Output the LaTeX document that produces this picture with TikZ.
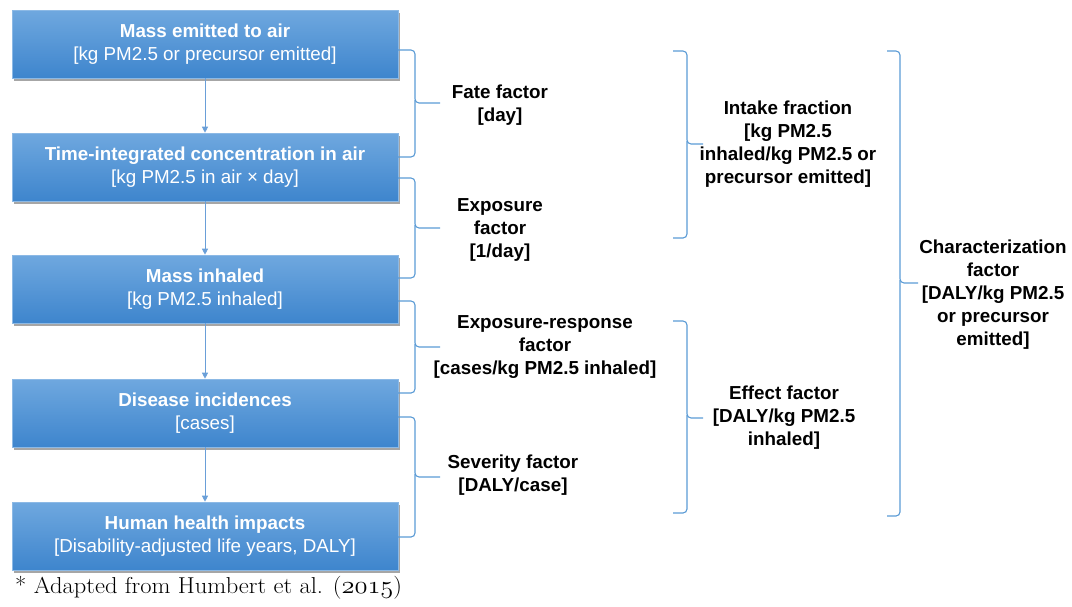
\documentclass[tikz,border=0pt]{standalone}
\usepackage{fontspec}
\setsansfont{Liberation Sans}
\usetikzlibrary{arrows.meta,shadows}
\definecolor{boxtop}{HTML}{6FA8DF}
\definecolor{boxbot}{HTML}{3E85CD}
\definecolor{bracecol}{HTML}{5B9BD5}
\definecolor{arrcol}{HTML}{6A9FD8}
\tikzset{
  flowbox/.style={rectangle, minimum width=386pt, minimum height=68pt, inner sep=0pt,
    top color=boxtop, bottom color=boxbot, draw=boxtop!80!white, line width=0.6pt,
    text=white, align=center, font=\sffamily\fontsize{18.8}{23}\selectfont,
    drop shadow={shadow xshift=1.5pt, shadow yshift=-2.5pt, fill=black, opacity=0.35}},
  flowarr/.style={draw=arrcol, line width=0.9pt, -{Triangle[length=6pt,width=6pt]}},
  bracket/.style={draw=bracecol, line width=1.1pt, rounded corners=4pt},
  lbl/.style={align=center, font=\sffamily\bfseries\fontsize{18.8}{23}\selectfont, inner sep=0pt}
}
\begin{document}
\begin{tikzpicture}[x=1pt,y=-1pt]
\useasboundingbox (0,0) rectangle (1072,606);
% boxes
\node[flowbox] (b1) at (205,44) {\textbf{Mass emitted to air}\\{[kg PM2.5 or precursor emitted]}};
\node[flowbox] (b2) at (205,167) {\textbf{Time-integrated concentration in air}\\{[kg PM2.5 in air × day]}};
\node[flowbox] (b3) at (205,289) {\textbf{Mass inhaled}\\{[kg PM2.5 inhaled]}};
\node[flowbox] (b4) at (205,413) {\textbf{Disease incidences}\\{[cases]}};
\node[flowbox] (b5) at (205,536) {\textbf{Human health impacts}\\{[Disability-adjusted life years, DALY]}};
% arrows
\draw[flowarr] (b1) -- (b2);
\draw[flowarr] (b2) -- (b3);
\draw[flowarr] (b3) -- (b4);
\draw[flowarr] (b4) -- (b5);
% braces column 1
\draw[bracket] (398,50) -- (415,50) -- (415,103) -- (440,103);
\draw[bracket] (415,100) -- (415,157) -- (398,157);
\draw[bracket] (398,178) -- (415,178) -- (415,228) -- (440,228);
\draw[bracket] (415,225) -- (415,278) -- (398,278);
\draw[bracket] (398,301) -- (415,301) -- (415,347) -- (440,347);
\draw[bracket] (415,344) -- (415,393) -- (398,393);
\draw[bracket] (398,417) -- (415,417) -- (415,477) -- (440,477);
\draw[bracket] (415,474) -- (415,537) -- (398,537);
% braces column 2
\draw[bracket] (673,51) -- (687,51) -- (687,144) -- (703,144);
\draw[bracket] (687,141) -- (687,238) -- (673,238);
\draw[bracket] (673,321) -- (687,321) -- (687,418) -- (703,418);
\draw[bracket] (687,415) -- (687,513) -- (673,513);
% brace column 3
\draw[bracket] (887,51) -- (900,51) -- (900,283) -- (918,283);
\draw[bracket] (900,280) -- (900,516) -- (887,516);
% labels
\node[lbl] (fate) at (500,105) {Fate factor\\{[day]}};
\node[lbl] (expo) at (500,230) {Exposure\\factor\\{[1/day]}};
\node[lbl] (expresp) at (545,347) {Exposure-response\\factor\\{[cases/kg PM2.5 inhaled]}};
\node[lbl] (sev) at (513,475) {Severity factor\\{[DALY/case]}};
\node[lbl] (intake) at (788,144) {Intake fraction\\{[kg PM2.5}\\inhaled/kg PM2.5 or\\precursor emitted]};
\node[lbl] (effect) at (784,418) {Effect factor\\{[DALY/kg PM2.5}\\inhaled]};
\node[lbl] (charf) at (993,295) {Characterization\\factor\\{[DALY/kg PM2.5}\\or precursor\\emitted]};
% footnote
\node[anchor=base west, inner sep=0pt, font=\rmfamily\fontsize{23}{26}\selectfont] (foot) at (15,593)
  {\scalebox{1.065}[1]{* Adapted from Humbert et al. ({\usefont{OML}{cmm}{m}{it}2015})}};
\end{tikzpicture}
\end{document}
